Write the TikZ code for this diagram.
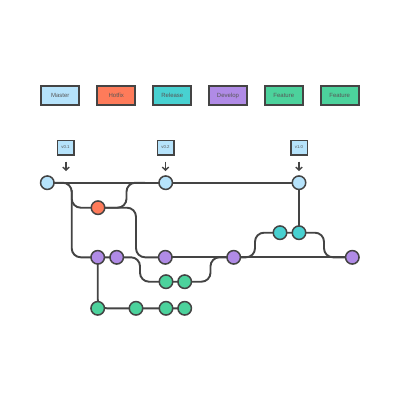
\documentclass[tikz,border=0pt]{standalone}
\usepackage{fontspec}
\setmainfont{Liberation Sans}
\usetikzlibrary{arrows.meta}
\definecolor{linec}{HTML}{444444}
\definecolor{masterc}{HTML}{B6E3FB}
\definecolor{hotfixc}{HTML}{FE7B5A}
\definecolor{releasec}{HTML}{48D1D1}
\definecolor{developc}{HTML}{B08BE6}
\definecolor{featurec}{HTML}{4CD29C}
\tikzset{
  legendbox/.style={draw=linec, line width=2pt, minimum width=38pt, minimum height=19pt, inner sep=0pt, font=\fontsize{6}{7}\selectfont, text=linec!90},
  tagbox/.style={draw=linec, line width=1.5pt, fill=masterc, minimum width=16.5pt, minimum height=14.5pt, inner sep=0pt, font=\fontsize{4.3}{5}\selectfont, text=linec!90},
  commit/.style={circle, draw=linec, line width=1.5pt, minimum size=13.5pt, inner sep=0pt},
  branchline/.style={draw=linec, line width=1.9pt, rounded corners=9pt},
  tagarrow/.style={draw=linec, line width=1.4pt, -{Straight Barb[length=3pt,width=6.5pt]}}
}
\begin{document}
\begin{tikzpicture}[x=1pt,y=-1pt]
\useasboundingbox[fill=white] (0,0) rectangle (400,400);
% legend
\node[legendbox, fill=masterc] (lm) at (60.3,95.8) {Master};
\node[legendbox, fill=hotfixc] (lh) at (116.3,95.8) {Hotfix};
\node[legendbox, fill=releasec] (lr) at (172.3,95.8) {Release};
\node[legendbox, fill=developc] (ld) at (228,95.8) {Develop};
\node[legendbox, fill=featurec] (lf1) at (283.8,95.8) {Feature};
\node[legendbox, fill=featurec] (lf2) at (339.7,95.8) {Feature};
% tags
\node[tagbox] (t1) at (65.5,147.5) {v0.1};
\node[tagbox] (t2) at (165.5,147.5) {v0.2};
\node[tagbox] (t3) at (299,147.5) {v1.0};
\coordinate (a1) at (66,171);
\coordinate (a2) at (165.5,171);
\coordinate (a3) at (299,171);
\draw[tagarrow] (66,161.5) -- (a1);
\draw[tagarrow] (165.5,161.5) -- (a2);
\draw[tagarrow] (299,161.5) -- (a3);
% commits positions
\coordinate (pm1) at (47.3,182.7);
\coordinate (pm2) at (165.7,182.7);
\coordinate (pm3) at (299,182.7);
\coordinate (ph) at (98,207.7);
\coordinate (pd1) at (97.7,257.3);
\coordinate (pd2) at (116.7,257.3);
\coordinate (pd3) at (165.3,257.3);
\coordinate (pd4) at (233.7,257.3);
\coordinate (pd5) at (352.3,257.3);
\coordinate (pr1) at (280,232.7);
\coordinate (pr2) at (299,232.7);
\coordinate (pfa1) at (166,281.7);
\coordinate (pfa2) at (184.7,281.7);
\coordinate (pfb1) at (97.7,308.3);
\coordinate (pfb2) at (136,308.3);
\coordinate (pfb3) at (166,308.3);
\coordinate (pfb4) at (184.7,308.3);
% lines
\draw[branchline] (pm1) -- (pm3);
\draw[branchline] (pm1) -- (71.7,182.7) -- (71.7,257.3) -- (pd1);
\draw[branchline] (71.7,190) -- (71.7,207.7) -- (ph);
\draw[branchline] (ph) -- (126.5,207.7) -- (126.5,182.7) -- (145,182.7);
\draw[branchline] (ph) -- (136,207.7) -- (136,257.3) -- (pd3);
\draw[branchline] (pd1) -- (pd2) -- (140,257.3) -- (140,281.7) -- (pfa1);
\draw[branchline] (pd3) -- (pd5);
\draw[branchline] (pfa1) -- (pfa2) -- (210.5,281.7) -- (210.5,257.3) -- (pd4);
\draw[branchline] (pd4) -- (255,257.3) -- (255,232.7) -- (pr1) -- (pr2) -- (324,232.7) -- (324,257.3) -- (pd5);
\draw[branchline] (pm3) -- (pr2);
\draw[branchline] (pd1) -- (pfb1) -- (pfb4);
% commit nodes
\node[commit, fill=masterc] (m1) at (pm1) {};
\node[commit, fill=masterc] (m2) at (pm2) {};
\node[commit, fill=masterc] (m3) at (pm3) {};
\node[commit, fill=hotfixc] (h1) at (ph) {};
\node[commit, fill=developc] (d1) at (pd1) {};
\node[commit, fill=developc] (d2) at (pd2) {};
\node[commit, fill=developc] (d3) at (pd3) {};
\node[commit, fill=developc] (d4) at (pd4) {};
\node[commit, fill=developc] (d5) at (pd5) {};
\node[commit, fill=releasec] (r1) at (pr1) {};
\node[commit, fill=releasec] (r2) at (pr2) {};
\node[commit, fill=featurec] (fa1) at (pfa1) {};
\node[commit, fill=featurec] (fa2) at (pfa2) {};
\node[commit, fill=featurec] (fb1) at (pfb1) {};
\node[commit, fill=featurec] (fb2) at (pfb2) {};
\node[commit, fill=featurec] (fb3) at (pfb3) {};
\node[commit, fill=featurec] (fb4) at (pfb4) {};
\end{tikzpicture}
\end{document}
